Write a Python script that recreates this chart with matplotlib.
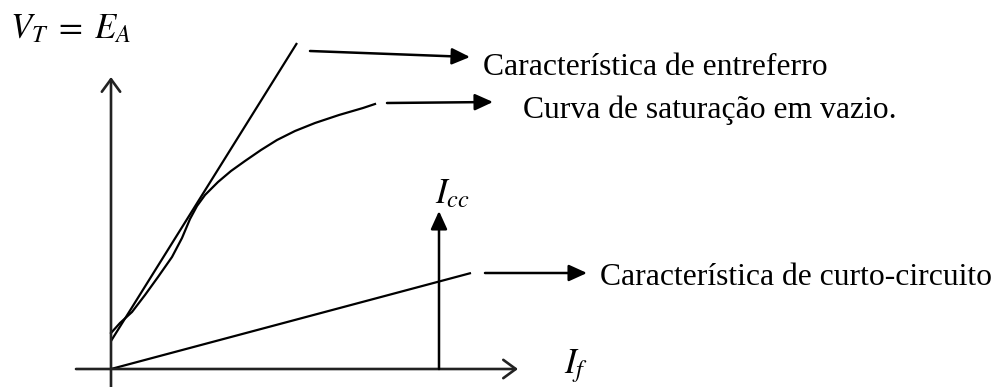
import matplotlib
matplotlib.use("Agg")
import matplotlib.pyplot as plt
import numpy as np

plt.rcParams['font.family'] = ['Liberation Serif', 'DejaVu Serif']
plt.rcParams['mathtext.fontset'] = 'stix'

# air-gap line (straight), open-circuit saturation curve and short-circuit line
# units: field current on x, terminal voltage / current on y (arbitrary)
airgap_x = [0, 186]
airgap_y = [28, 326]

occ_x = [0, 9, 21, 34, 47, 61, 71, 79, 86, 94, 107, 120, 134, 150, 166, 184, 204, 228, 252, 264]
occ_y = [36, 46, 57, 74, 92, 112, 131, 150, 163, 174, 187, 198, 208, 219, 229, 238, 246, 254, 261, 265]

scc_x = [0, 360]
scc_y = [0, 96]

# reading of Icc at a given field current
icc_at = 328
icc_top = 158

labels = ["Característica de entreferro",
          "Curva de saturação em vazio.",
          "Característica de curto-circuito"]

fig = plt.figure(figsize=(10, 3.87), dpi=100)
ax = fig.add_axes([0, 0, 1, 1])
ax.set_xlim(-111, 889)
ax.set_ylim(-18, 369)
ax.axis('off')

lw = 1.6
ax.plot(airgap_x, airgap_y, color='black', lw=lw, solid_capstyle='butt')
ax.plot(occ_x, occ_y, color='black', lw=lw, solid_joinstyle='round')
ax.plot(scc_x, scc_y, color='black', lw=lw, solid_capstyle='butt')

# axes with open arrow heads
open_head = dict(arrowstyle='->,head_length=0.45,head_width=0.33', color='#222222',
                 lw=1.9, shrinkA=0, shrinkB=0, mutation_scale=20)
ax.annotate('', xy=(407, 0), xytext=(-35, 0), arrowprops=open_head)
ax.annotate('', xy=(0, 292), xytext=(0, -18), arrowprops=open_head)

# Icc vertical with filled head
filled = dict(arrowstyle='-|>,head_length=0.55,head_width=0.25', color='black',
              lw=1.8, shrinkA=0, shrinkB=0, mutation_scale=20)
ax.annotate('', xy=(icc_at, icc_top), xytext=(icc_at, 0), arrowprops=filled)

# pointer arrows to the curve names
ax.annotate('', xy=(359, 312), xytext=(199, 318), arrowprops=filled)
ax.annotate('', xy=(382, 267), xytext=(276, 266), arrowprops=filled)
ax.annotate('', xy=(476, 96), xytext=(374, 96), arrowprops=filled)

fs = 22.8
ax.text(372, 294, labels[0], fontsize=fs, ha='left', va='baseline')
ax.text(412, 251, labels[1], fontsize=fs, ha='left', va='baseline')
ax.text(489, 84, labels[2], fontsize=fs, ha='left', va='baseline')

mfs = 25
ax.text(-101, 331, r'$V_T\;=\;E_A$', fontsize=mfs, ha='left', va='baseline')
ax.text(341, 166, r'$I_{cc}$', fontsize=mfs, ha='center', va='baseline')
ax.text(465, -4, r'$I_f$', fontsize=mfs, ha='center', va='baseline')

fig.savefig('out.png', dpi=100, facecolor='white')
